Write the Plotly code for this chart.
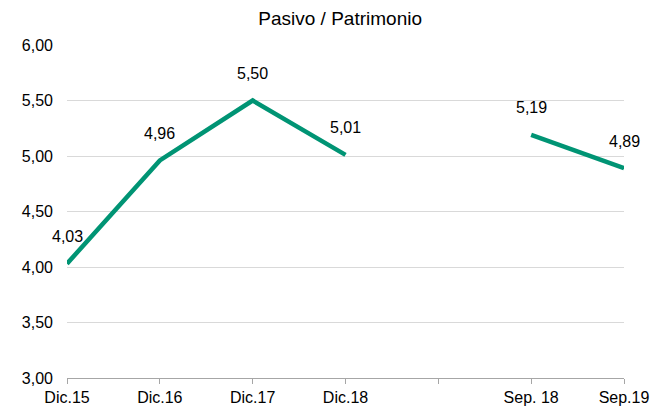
import plotly.graph_objects as go

periodos = ["Dic.15", "Dic.16", "Dic.17", "Dic.18", " ", "Sep. 18", "Sep.19"]
pasivo_patrimonio = [4.03, 4.96, 5.50, 5.01, None, 5.19, 4.89]

verde = "#009474"

fig = go.Figure()
fig.add_trace(go.Scatter(
    x=periodos, y=pasivo_patrimonio, mode="lines",
    line=dict(color=verde, width=4.5), connectgaps=False,
    hoverinfo="x+y", showlegend=False,
))

# etiquetas de datos encima de cada punto
for p, v in zip(periodos, pasivo_patrimonio):
    if v is None:
        continue
    fig.add_annotation(
        x=p, y=v, text=f"{v:.2f}".replace(".", ","), showarrow=False,
        yshift=27, font=dict(size=16, color="#000000"),
    )

fig.update_layout(
    title=dict(text="Pasivo / Patrimonio", x=0.498, xanchor="center",
               y=0.975, yanchor="middle",
               font=dict(size=19, color="#000000")),
    width=667, height=410,
    margin=dict(l=59, r=51, t=37, b=33),
    plot_bgcolor="white", paper_bgcolor="white",
    font=dict(family="Liberation Sans, Arial, sans-serif", size=16, color="#000000"),
    separators=",.",
)
fig.update_xaxes(
    type="category", range=[0, 6], showgrid=False,
    showline=True, linecolor="#a6a6a6", linewidth=1,
    ticks="outside", ticklen=5, tickcolor="#a6a6a6",
    tickfont=dict(size=16),
)
fig.update_yaxes(
    range=[3, 6], dtick=0.5, tickformat=".2f",
    showgrid=True, gridcolor="#d9d9d9", gridwidth=1,
    zeroline=False, showline=False, ticklabelstandoff=13,
    tickfont=dict(size=16),
)

fig.write_html("out.html")
